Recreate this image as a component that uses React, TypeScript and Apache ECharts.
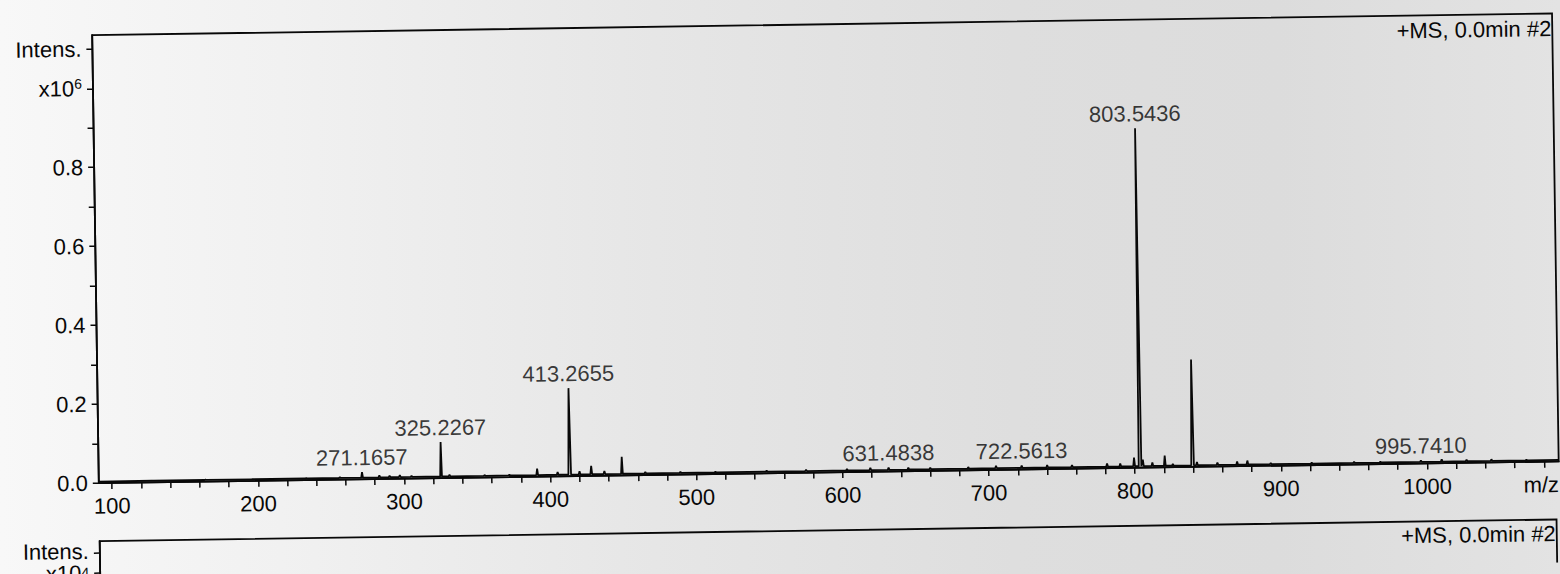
import React, { useEffect, useRef } from "react";
import * as echarts from "echarts";

// Labelled peaks (m/z, intensity x10^6)
const mzLabeled = [271.1657, 325.2267, 413.2655, 631.4838, 722.5613, 803.5436, 995.741];
const intLabeled = [0.018, 0.091, 0.223, 0.01, 0.01, 0.86, 0.008];

// Unlabelled peaks / baseline noise (m/z, intensity x10^6)
const mzMinor = [128, 164, 196, 233, 256, 283, 290, 297, 305, 331, 355, 372, 391, 405, 420, 428, 437, 449, 465, 489, 513, 548, 575, 603, 619, 645, 660, 686, 705, 740, 757, 781, 790, 799.5, 805.5, 812, 820.5, 826, 839.5, 842.5, 856.5, 870, 877, 893, 921, 950, 968, 1010, 1027, 1044, 1068];
const intMinor = [0.004, 0.005, 0.004, 0.005, 0.006, 0.009, 0.008, 0.009, 0.007, 0.008, 0.006, 0.006, 0.02, 0.011, 0.012, 0.025, 0.012, 0.047, 0.008, 0.007, 0.006, 0.007, 0.007, 0.008, 0.01, 0.009, 0.008, 0.008, 0.01, 0.01, 0.009, 0.012, 0.011, 0.026, 0.02, 0.013, 0.03, 0.008, 0.272, 0.012, 0.01, 0.012, 0.014, 0.007, 0.006, 0.007, 0.006, 0.01, 0.008, 0.008, 0.006];

const baseLevel = 0.004;
const xMin = 91;
const xMax = 1090;

// Tick labels
const xTickLabels = [100, 200, 300, 400, 500, 600, 700, 800, 900, 1000];
const xTicks = [100, 120, 140, 160, 180, 200, 220, 240, 260, 280, 300, 320, 340, 360, 380, 400, 420, 440, 460, 480, 500, 520, 540, 560, 580, 600, 620, 640, 660, 680, 700, 720, 740, 760, 780, 800, 820, 840, 860, 880, 900, 920, 940, 960, 980, 1000, 1020, 1040, 1060, 1080];
const yTickLabels = [0, 0.2, 0.4, 0.6, 0.8, 1.0, 1.1];
const yTicks = [0, 0.1, 0.2, 0.3, 0.4, 0.5, 0.6, 0.7, 0.8, 0.9, 1.0, 1.1];
const yTickLabels2 = [1.0];

const titleText = "+MS, 0.0min #2";
const FONT = '"Liberation Sans", Arial, Helvetica, sans-serif';
const INK = "#080808";

export default function App() {
  const ref = useRef<HTMLDivElement>(null);

  useEffect(() => {
    if (!ref.current) return;
    const chart = echarts.init(ref.current, undefined, { renderer: "svg" });

    const peaks = mzLabeled
      .map((m, i) => ({ m, h: intLabeled[i] }))
      .concat(mzMinor.map((m, i) => ({ m, h: intMinor[i] })))
      .sort((a, b) => a.m - b.m);

    const lineData: number[][] = [[xMin, baseLevel]];
    peaks.forEach((p) => {
      const w = p.h > 0.1 ? 0.9 : 0.6;
      lineData.push([p.m - w, baseLevel], [p.m, p.h], [p.m + w, baseLevel]);
    });
    lineData.push([xMax, baseLevel]);

    const labelData = mzLabeled.map((m, i) => [m, intLabeled[i]]);

    const richLabel = {
      t: { fontSize: 22, lineHeight: 24, color: INK, fontFamily: FONT },
      s: { fontSize: 14, lineHeight: 14, color: INK, fontFamily: FONT, verticalAlign: "top" },
    };
    const richLabel2 = {
      t: { fontSize: 22, lineHeight: 16, color: INK, fontFamily: FONT },
      s: { fontSize: 14, lineHeight: 10, color: INK, fontFamily: FONT, verticalAlign: "top" },
    };

    const option: any = {
      animation: false,
      backgroundColor: "transparent",
      textStyle: { fontFamily: FONT, color: INK },
      title: [
        {
          text: titleText,
          right: 5,
          top: 29,
          padding: 0,
          textStyle: { fontSize: 22, fontWeight: "normal", color: INK, fontFamily: FONT },
        },
        {
          text: titleText,
          right: 8,
          top: 534,
          padding: 0,
          textStyle: { fontSize: 22, fontWeight: "normal", color: INK, fontFamily: FONT },
        },
      ],
      grid: [
        {
          left: 96,
          right: 4,
          top: 25,
          height: 448,
          show: true,
          borderColor: INK,
          borderWidth: 1.8,
          backgroundColor: "transparent",
          outerBoundsMode: "none",
        },
        {
          left: 96,
          right: 7,
          top: 531,
          height: 232,
          show: true,
          borderColor: INK,
          borderWidth: 1.8,
          backgroundColor: "transparent",
          outerBoundsMode: "none",
        },
      ],
      xAxis: [
        {
          type: "value",
          gridIndex: 0,
          min: xMin,
          max: xMax,
          name: "m/z",
          nameLocation: "end",
          nameGap: 0,
          nameTextStyle: {
            fontSize: 22,
            color: INK,
            fontFamily: FONT,
            align: "right",
            verticalAlign: "top",
            padding: [12, 0, 0, 0],
          },
          axisLine: { show: true, onZero: false, lineStyle: { color: INK, width: 1.8 } },
          axisTick: { show: true, customValues: xTicks, length: 6, lineStyle: { color: INK, width: 1.5 } },
          axisLabel: {
            show: true,
            customValues: xTickLabels,
            showMinLabel: true,
            showMaxLabel: true,
            margin: 12,
            fontSize: 22,
            color: INK,
            fontFamily: FONT,
            formatter: (v: number) => String(Math.round(v)),
          },
          splitLine: { show: false },
        },
        {
          type: "value",
          gridIndex: 1,
          min: xMin,
          max: xMax,
          show: false,
        },
      ],
      yAxis: [
        {
          type: "value",
          gridIndex: 0,
          min: 0,
          max: 1.135,
          axisLine: { show: true, onZero: false, lineStyle: { color: INK, width: 1.8 } },
          axisTick: { show: true, customValues: yTicks, length: 6, lineStyle: { color: INK, width: 1.5 } },
          axisLabel: {
            show: true,
            customValues: yTickLabels,
            showMinLabel: true,
            showMaxLabel: true,
            margin: 11,
            fontSize: 22,
            color: INK,
            fontFamily: FONT,
            formatter: (v: number) => {
              const k = Math.round(v * 10);
              if (k === 11) return "Intens.";
              if (k === 10) return "{t|x10}{s|6}";
              return (k / 10).toFixed(1);
            },
            rich: richLabel,
          },
          splitLine: { show: false },
        },
        {
          type: "value",
          gridIndex: 1,
          min: 0,
          max: 1.16,
          name: "Intens.",
          nameLocation: "end",
          nameGap: -12,
          nameTextStyle: {
            fontSize: 22,
            color: INK,
            fontFamily: FONT,
            align: "right",
            verticalAlign: "middle",
            padding: [0, 11, 0, 0],
          },
          axisLine: { show: true, onZero: false, lineStyle: { color: INK, width: 1.8 } },
          axisTick: { show: true, customValues: yTicks, length: 6, lineStyle: { color: INK, width: 1.5 } },
          axisLabel: {
            show: true,
            customValues: yTickLabels2,
            showMinLabel: true,
            showMaxLabel: true,
            margin: 11,
            fontSize: 22,
            color: INK,
            fontFamily: FONT,
            formatter: (v: number) => {
              const k = Math.round(v * 10);
              if (k === 10) return "{t|x10}{s|4}";
              return "";
            },
            rich: richLabel2,
          },
          splitLine: { show: false },
        },
      ],
      series: [
        {
          type: "line",
          xAxisIndex: 0,
          yAxisIndex: 0,
          data: lineData,
          showSymbol: false,
          symbol: "none",
          lineStyle: { color: INK, width: 1.8 },
          z: 3,
        },
        {
          type: "scatter",
          xAxisIndex: 0,
          yAxisIndex: 0,
          data: labelData,
          symbolSize: 1,
          itemStyle: { color: "rgba(0,0,0,0)" },
          label: {
            show: true,
            position: "top",
            distance: 3,
            fontSize: 22,
            color: INK,
            fontFamily: FONT,
            formatter: (p: any) => Number(p.value[0]).toFixed(4),
          },
          z: 4,
        },
      ],
    };

    chart.setOption(option);
    return () => chart.dispose();
  }, []);

  return (
    <div
      style={{
        position: "fixed",
        left: 0,
        top: 0,
        width: 1560,
        height: 574,
        overflow: "hidden",
        background:
          "linear-gradient(90deg, #f8f8f8 0%, #f1f1f1 18%, #e6e6e6 42%, #dedede 65%, #dcdcdc 82%, #e3e3e3 100%)",
      }}
    >
      <div
        ref={ref}
        style={{
          width: 1560,
          height: 574,
          transform: "rotate(-0.85deg)",
          transformOrigin: "780px 287px",
        }}
      />
    </div>
  );
}
